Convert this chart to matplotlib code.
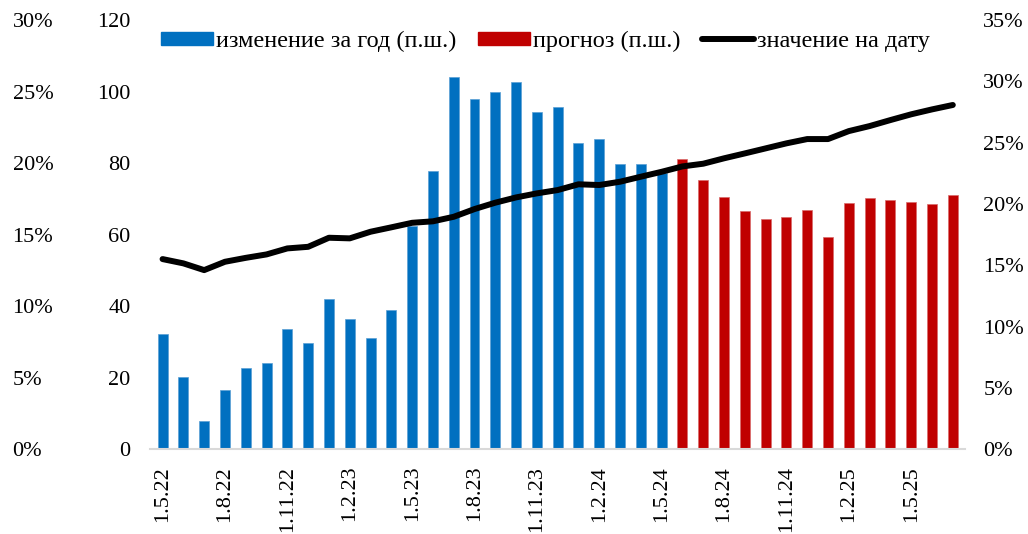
import numpy as np
import pandas as pd
import matplotlib
matplotlib.use("Agg")
import matplotlib.pyplot as plt
from matplotlib.patches import Patch
from matplotlib.lines import Line2D

plt.rcParams['font.family'] = ['Liberation Serif', 'DejaVu Serif']

# месяцы с 1.5.22 по 1.7.25
dates = pd.date_range("2022-05-01", "2025-07-01", freq="MS")
labels = ["1.{0}.{1:02d}".format(d.month, d.year % 100) for d in dates]

# изменение за год (п.ш.) - факт
fact = [32.2, 20.2, 7.8, 16.5, 22.7, 24.1, 33.7, 29.6, 42.0, 36.3, 31.1, 38.9,
        62.5, 77.7, 104.1, 97.9, 99.9, 102.7, 94.4, 95.6, 85.5, 86.8, 79.8, 79.8, 77.1]
# прогноз (п.ш.)
forecast = [81.1, 75.2, 70.6, 66.6, 64.3, 64.9, 66.8, 59.2, 68.8, 70.1, 69.7, 69.1, 68.5, 71.0]
# значение на дату, %
level = [15.5, 15.15, 14.6, 15.28, 15.6, 15.88, 16.37, 16.5, 17.24, 17.19, 17.73, 18.09, 18.46,
         18.58, 18.95, 19.58, 20.1, 20.53, 20.86, 21.13, 21.6, 21.54, 21.81, 22.22, 22.62,
         23.06, 23.28, 23.72, 24.12, 24.53, 24.94, 25.29, 25.29, 25.94, 26.35, 26.84, 27.31,
         27.71, 28.07]

blue = "#0070C0"
red = "#C00000"
fs = 16

x = np.arange(len(dates))
x_fact = x[:len(fact)]
x_fc = x[len(fact):]

fig = plt.figure(figsize=(10.28, 5.34), dpi=100)
ax = fig.add_axes([0.146, 0.159, 0.793, 0.8035])

# внешняя левая шкала в %
ax_pct = ax.twinx()
ax_pct.yaxis.tick_left()
ax_pct.set_ylim(0, 30)
ax_pct.set_yticks(range(0, 31, 5))
ax_pct.set_yticklabels(["{0}%".format(v) for v in range(0, 31, 5)], fontsize=fs, ha="left")
ax_pct.tick_params(axis="y", length=0, pad=99)
ax_pct.set_zorder(0)

ax.set_zorder(1)
ax.patch.set_visible(False)
ax.bar(x_fact, fact, width=0.48, color=blue, edgecolor="#5a9fd4", linewidth=0.5)
ax.bar(x_fc, forecast, width=0.48, color=red, edgecolor="#d96a6a", linewidth=0.5)
ax.set_ylim(0, 120)
ax.set_yticks(range(0, 121, 20))
ax.set_xlim(-0.6, len(dates) - 0.4)
ax.set_xticks(x[::3])
ax.set_xticklabels(labels[::3], rotation=90, fontsize=fs)
ax.tick_params(axis="y", length=0, pad=14, labelsize=fs)
ax.tick_params(axis="x", length=0, pad=12)

# правая шкала - значение на дату
ax2 = ax.twinx()
ax2.set_zorder(2)
ax2.plot(x, level, color="black", linewidth=4.3, solid_capstyle="round")
ax2.set_ylim(0, 35)
ax2.set_yticks(range(0, 36, 5))
ax2.set_yticklabels(["{0}%".format(v) for v in range(0, 36, 5)], fontsize=fs)
ax2.tick_params(axis="y", length=0, pad=13)

for a in (ax, ax_pct, ax2):
    for s in a.spines.values():
        s.set_visible(False)
ax.spines["bottom"].set_visible(True)
ax.spines["bottom"].set_color("#d9d9d9")
ax.spines["bottom"].set_linewidth(1.5)

handles = [Patch(color=blue), Patch(color=red),
           Line2D([0], [0], color="black", linewidth=4.3, solid_capstyle="round")]
names = ["изменение за год (п.ш.)", "прогноз (п.ш.)", "значение на дату"]
ax2.legend(handles, names, loc="upper center", bbox_to_anchor=(0.485, 1.015), ncol=3,
           frameon=False, fontsize=17.5, handlelength=2.15, handleheight=0.45,
           handletextpad=0.15, columnspacing=0.85, borderaxespad=0.3)

fig.savefig("out.png", dpi=100)
